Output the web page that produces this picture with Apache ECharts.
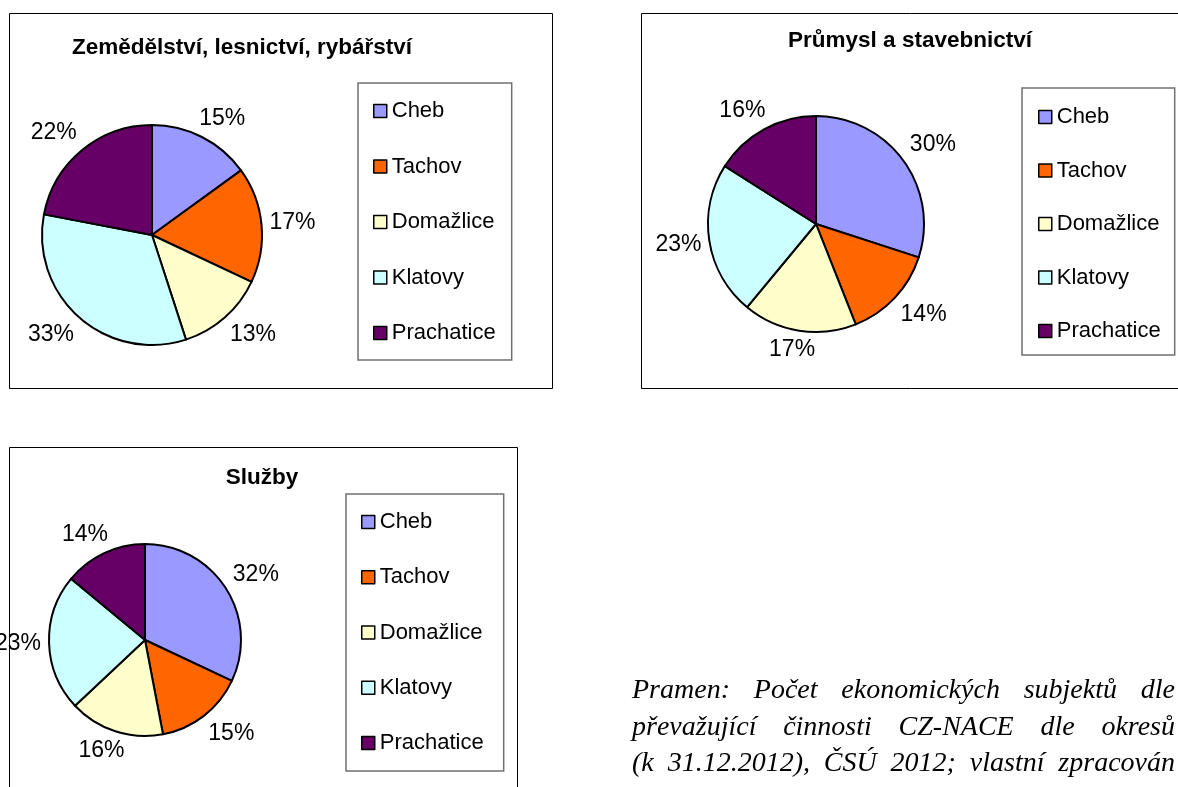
<!DOCTYPE html>
<html><head><meta charset="utf-8">
<script src="https://cdn.jsdelivr.net/npm/echarts@6/dist/echarts.min.js"></script>
<style>html,body{margin:0;padding:0;background:#fff}#c{width:1178px;height:787px}</style>
</head><body><div id="c"></div>
<script>
// ---- data ----
const categories = ['Cheb', 'Tachov', 'Domažlice', 'Klatovy', 'Prachatice'];
const colors = ['#9999FF', '#FF6600', '#FFFFCC', '#CCFFFF', '#660066'];
const titles = ['Zemědělství, lesnictví, rybářství', 'Průmysl a stavebnictví', 'Služby'];
const agriculture = [15, 17, 13, 33, 22];
const industry = [30, 14, 17, 23, 16];
const services = [32, 15, 16, 23, 14];
const sourceLines = [
  'Pramen: Počet ekonomických subjektů dle',
  'převažující činnosti CZ-NACE dle okresů',
  '(k 31.12.2012), ČSÚ 2012; vlastní zpracován'
];

// ---- layout ----
const FONT = '"Liberation Sans", Arial, sans-serif';
const panels = [
  { values: agriculture, box: [9, 13, 543, 375], titleX: 242, titleY: 36.5, center: [152, 235], r: 110,
    legend: { left: 358, top: 83, gap: 33.5, pad: [17, 16, 16, 15] } },
  { values: industry, box: [641, 13, 600, 375], titleX: 910, titleY: 29, center: [816, 224], r: 108,
    legend: { left: 1022, top: 88, gap: 31.5, pad: [18, 14, 13, 16] } },
  { values: services, box: [9, 447, 508, 400], titleX: 262, titleY: 466, center: [145, 640], r: 96,
    legend: { left: 346, top: 494, gap: 33.25, pad: [17, 20, 17, 15] } }
];

const chart = echarts.init(document.getElementById('c'), null, { renderer: 'canvas' });

const graphics = [];
panels.forEach(p => {
  graphics.push({ type: 'rect', z: -10, shape: { x: p.box[0] + 0.5, y: p.box[1] + 0.5, width: p.box[2], height: p.box[3] },
    style: { fill: '#fff', stroke: '#000', lineWidth: 1 } });
});

// justified source text
const ctx = document.createElement('canvas').getContext('2d');
const srcFont = 'italic 28px "Liberation Serif", "Times New Roman", serif';
ctx.font = srcFont;
const srcLeft = 632, srcRight = 1175, srcTop = 691, srcLH = 36.5;
sourceLines.forEach((line, li) => {
  const words = line.split(' ');
  const widths = words.map(w => ctx.measureText(w).width);
  const total = widths.reduce((a, b) => a + b, 0);
  const gap = (srcRight - srcLeft - total) / (words.length - 1);
  let x = srcLeft;
  words.forEach((w, i) => {
    graphics.push({ type: 'text', x: x, y: srcTop + li * srcLH,
      style: { text: w, font: srcFont, fill: '#000', textVerticalAlign: 'middle', textAlign: 'left' } });
    x += widths[i] + gap;
  });
});

// Excel-like outside-end label placement, using the pie layout computed by ECharts
function excelLabel(params) {
  try {
    const s = chart.getModel().getSeriesByIndex(params.seriesIndex);
    const lay = s.getData().getItemLayout(params.dataIndex);
    const mid = (lay.startAngle + lay.endAngle) / 2;
    const ux = Math.cos(mid), uy = Math.sin(mid);
    const hw = params.labelRect.width / 2, hh = params.labelRect.height / 2;
    const f = t => Math.sign(t) * Math.min(1, 1.6 * Math.abs(t));
    const d = lay.r + 8;
    return { x: lay.cx + d * ux + hw * f(ux), y: lay.cy + d * uy + hh * f(uy), align: 'center', verticalAlign: 'middle' };
  } catch (e) { return {}; }
}

const option = {
  animation: false,
  backgroundColor: '#fff',
  color: colors,
  graphic: graphics,
  title: panels.map((p, i) => ({
    text: titles[i], left: p.titleX, top: p.titleY, textAlign: 'center', padding: 0,
    textStyle: { fontFamily: FONT, fontWeight: 'bold', fontSize: 22.5, color: '#000' }
  })),
  legend: panels.map(p => ({
    orient: 'vertical', left: p.legend.left, top: p.legend.top,
    data: categories, icon: 'rect', itemWidth: 13, itemHeight: 13, itemGap: p.legend.gap, itemTextGap: 10,
    padding: p.legend.pad, borderColor: '#707070', borderWidth: 1.5, backgroundColor: '#fff',
    selectedMode: false,
    itemStyle: { borderColor: '#000', borderWidth: 1.5 },
    textStyle: { fontFamily: FONT, fontSize: 22, color: '#000' }
  })),
  series: panels.map(p => ({
    type: 'pie', center: p.center, radius: p.r, startAngle: 90, clockwise: true,
    avoidLabelOverlap: false, animation: false,
    data: categories.map((c, i) => ({ name: c, value: p.values[i] })),
    itemStyle: { borderColor: '#000', borderWidth: 2 },
    emphasis: { disabled: true },
    label: { show: true, position: 'outside', formatter: '{c}%', fontFamily: FONT, fontSize: 23, color: '#000' },
    labelLine: { show: false, length: 12, length2: 0 },
    labelLayout: excelLabel
  }))
};
chart.setOption(option);
</script></body></html>
